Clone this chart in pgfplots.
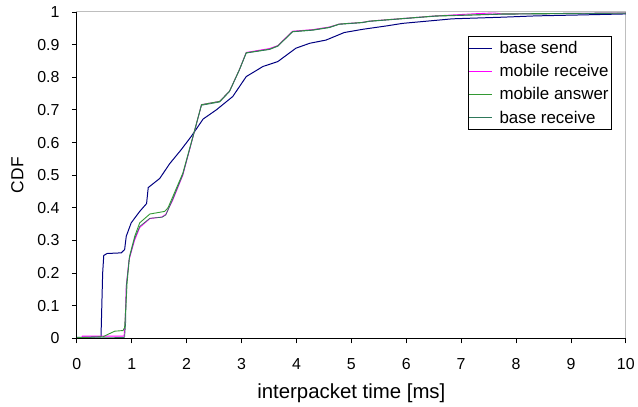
\documentclass[border=0pt]{standalone}
\usepackage{pgfplots}
\pgfplotsset{compat=1.18}
\usepackage{fontspec}
\setmainfont{Liberation Sans}
\definecolor{bsend}{RGB}{0,0,128}
\definecolor{mrecv}{RGB}{255,0,255}
\definecolor{mans}{RGB}{51,153,51}
\definecolor{brecv}{RGB}{46,120,90}
\definecolor{frame}{RGB}{190,190,190}
\begin{document}
\begin{tikzpicture}
\begin{axis}[
  scale only axis, width=550bp, height=327bp,
  xmin=0, xmax=10, ymin=0, ymax=1,
  xtick={0,1,...,10}, ytick={0,0.1,...,1.0},
  yticklabels={0,0.1,0.2,0.3,0.4,0.5,0.6,0.7,0.8,0.9,1},
  xtick pos=left, ytick pos=left,
  tick align=outside, major tick length=5bp,
  tick style={black, line width=0.8pt},
  axis line style={frame, line width=1pt},
  clip mode=individual,
  /pgf/number format/assume math mode=true,
  ticklabel style={font=\fontsize{16}{19}\selectfont},
  xticklabel style={yshift=-12bp},
  yticklabel style={xshift=-9bp},
  xlabel={interpacket time [ms]},
  ylabel={CDF},
  xlabel style={font=\fontsize{20.5}{24}\selectfont, yshift=-7bp},
  ylabel style={font=\fontsize{17.5}{20}\selectfont, yshift=7bp},
  legend style={at={(1,1)}, anchor=north east, xshift=-14bp, yshift=-24bp,
    draw=black, line width=0.6pt, font=\fontsize{17}{20}\selectfont,
    inner xsep=1bp, inner ysep=3bp, row sep=5.5bp,
    cells={anchor=west}},
  legend image code/.code={\draw[#1] (0.05cm,0cm) -- (0.85cm,0cm);},
  every axis plot/.append style={line width=0.9pt},
]
\addplot[bsend, line width=1pt] coordinates {
(0,0.003) (0.44,0.005) (0.47,0.2) (0.49,0.254) (0.55,0.26) (0.81,0.262)
(0.87,0.272) (0.90,0.313) (0.99,0.354) (1.145,0.389) (1.27,0.413) (1.30,0.462)
(1.51,0.49) (1.69,0.535) (1.90,0.578) (2.085,0.619) (2.30,0.672) (2.54,0.70)
(2.84,0.741) (3.085,0.802) (3.39,0.833) (3.66,0.848) (3.99,0.889) (4.24,0.904)
(4.54,0.914) (4.87,0.937) (5.21,0.947) (5.63,0.957) (5.93,0.965) (6.84,0.979)
(7.75,0.984) (8.36,0.988) (9.2,0.991) (10,0.994)};
\addlegendentry{\rule{5bp}{0pt}base send}
\addplot[mrecv] coordinates {
(0,0.001) (0.09,0.002) (0.1,0.007) (0.86,0.007) (0.88,0.05) (0.90,0.16)
(0.95,0.24) (1.05,0.30) (1.145,0.34) (1.33,0.367) (1.55,0.372) (1.62,0.38)
(1.75,0.425) (1.93,0.50) (2.115,0.617) (2.27,0.716) (2.6,0.726) (2.78,0.757)
(2.96,0.823) (3.085,0.876) (3.51,0.888) (3.66,0.897) (3.93,0.941) (4.3,0.946)
(4.6,0.954) (4.78,0.963) (5.2,0.968) (5.33,0.972) (6.54,0.988) (7.3,0.995)
(7.6,0.997) (7.75,0.994) (10,0.997)};
\addlegendentry{\rule{5bp}{0pt}mobile receive}
\addplot[mans] coordinates {
(0,0.002) (0.48,0.005) (0.60,0.015) (0.69,0.022) (0.84,0.024) (0.87,0.033)
(0.90,0.12) (0.915,0.17) (0.96,0.252) (1.055,0.313) (1.145,0.354) (1.33,0.381)
(1.6,0.389) (1.66,0.40) (1.75,0.435) (1.93,0.506) (2.115,0.619) (2.27,0.716)
(2.6,0.726) (2.78,0.757) (2.96,0.823) (3.085,0.875) (3.51,0.886) (3.66,0.896)
(3.93,0.94) (4.3,0.945) (4.6,0.953) (4.78,0.963) (5.2,0.968) (5.33,0.972)
(6.54,0.988) (7.75,0.994) (10,0.997)};
\addlegendentry{\rule{5bp}{0pt}mobile answer}
\addplot[brecv, line width=0.7pt] coordinates {
(0,0.0) (0.87,0.003) (0.89,0.05) (0.90,0.16) (0.955,0.245) (1.05,0.305)
(1.145,0.343) (1.33,0.368) (1.55,0.371) (1.62,0.378) (1.75,0.428) (1.93,0.502)
(2.115,0.617) (2.27,0.714) (2.6,0.724) (2.78,0.756) (2.96,0.822) (3.085,0.874)
(3.51,0.885) (3.66,0.895) (3.93,0.939) (4.3,0.944) (4.6,0.952) (4.78,0.962)
(5.2,0.967) (5.33,0.971) (6.54,0.987) (7.75,0.993) (10,0.996)};
\addlegendentry{\rule{5bp}{0pt}base receive}
\draw[black, line width=1pt] (rel axis cs:0,1) -- (rel axis cs:0,0) -- (rel axis cs:1,0);
\coordinate (SW) at (rel axis cs:0,0);
\coordinate (NE) at (rel axis cs:1,1);
\end{axis}
\path ([shift={(-77bp,-63bp)}]SW) rectangle ([shift={(11bp,12bp)}]NE);
\end{tikzpicture}
\end{document}
